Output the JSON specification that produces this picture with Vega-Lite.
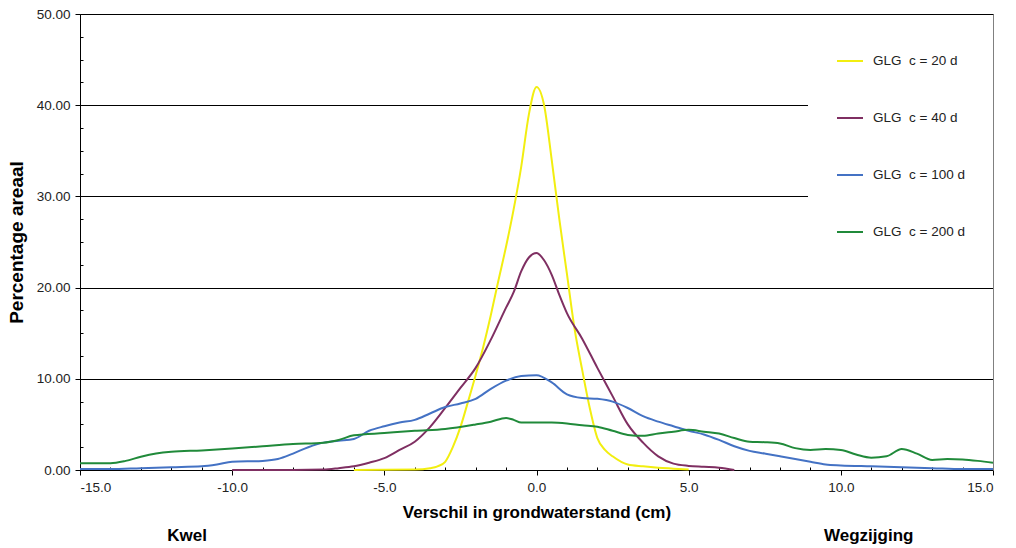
{
  "$schema": "https://vega.github.io/schema/vega-lite/v6.json",
  "width": 913,
  "height": 456,
  "autosize": {"type": "none"},
  "padding": {"left": 80, "top": 14, "right": 23, "bottom": 78},
  "background": "white",
  "config": {"view": {"stroke": null}, "font": "Liberation Sans"},
  "datasets": {
    "curves": [
      {"s": "GLG\u00a0 c = 20 d", "x": -6, "y": 0},
      {"s": "GLG\u00a0 c = 20 d", "x": -4, "y": 0.05},
      {"s": "GLG\u00a0 c = 20 d", "x": -3.5, "y": 0.2},
      {"s": "GLG\u00a0 c = 20 d", "x": -3.25, "y": 0.4},
      {"s": "GLG\u00a0 c = 20 d", "x": -3, "y": 0.9},
      {"s": "GLG\u00a0 c = 20 d", "x": -2.75, "y": 2.5},
      {"s": "GLG\u00a0 c = 20 d", "x": -2.5, "y": 4.7},
      {"s": "GLG\u00a0 c = 20 d", "x": -2.25, "y": 7.5},
      {"s": "GLG\u00a0 c = 20 d", "x": -2, "y": 10.4},
      {"s": "GLG\u00a0 c = 20 d", "x": -1.75, "y": 13.5},
      {"s": "GLG\u00a0 c = 20 d", "x": -1.5, "y": 17},
      {"s": "GLG\u00a0 c = 20 d", "x": -1.25, "y": 20.8},
      {"s": "GLG\u00a0 c = 20 d", "x": -1, "y": 24.5},
      {"s": "GLG\u00a0 c = 20 d", "x": -0.75, "y": 28.6},
      {"s": "GLG\u00a0 c = 20 d", "x": -0.5, "y": 33.3},
      {"s": "GLG\u00a0 c = 20 d", "x": -0.25, "y": 39},
      {"s": "GLG\u00a0 c = 20 d", "x": 0, "y": 42},
      {"s": "GLG\u00a0 c = 20 d", "x": 0.25, "y": 40},
      {"s": "GLG\u00a0 c = 20 d", "x": 0.5, "y": 34},
      {"s": "GLG\u00a0 c = 20 d", "x": 0.75, "y": 27.5},
      {"s": "GLG\u00a0 c = 20 d", "x": 1, "y": 21.5},
      {"s": "GLG\u00a0 c = 20 d", "x": 1.25, "y": 15.5},
      {"s": "GLG\u00a0 c = 20 d", "x": 1.5, "y": 11},
      {"s": "GLG\u00a0 c = 20 d", "x": 1.75, "y": 6.8},
      {"s": "GLG\u00a0 c = 20 d", "x": 2, "y": 3.5},
      {"s": "GLG\u00a0 c = 20 d", "x": 2.25, "y": 2.2},
      {"s": "GLG\u00a0 c = 20 d", "x": 2.5, "y": 1.5},
      {"s": "GLG\u00a0 c = 20 d", "x": 3, "y": 0.6},
      {"s": "GLG\u00a0 c = 20 d", "x": 3.5, "y": 0.4},
      {"s": "GLG\u00a0 c = 20 d", "x": 4, "y": 0.25},
      {"s": "GLG\u00a0 c = 20 d", "x": 4.5, "y": 0.15},
      {"s": "GLG\u00a0 c = 20 d", "x": 5, "y": 0.05},

      {"s": "GLG\u00a0 c = 40 d", "x": -10, "y": 0},
      {"s": "GLG\u00a0 c = 40 d", "x": -8, "y": 0},
      {"s": "GLG\u00a0 c = 40 d", "x": -7, "y": 0.05},
      {"s": "GLG\u00a0 c = 40 d", "x": -6.5, "y": 0.2},
      {"s": "GLG\u00a0 c = 40 d", "x": -6, "y": 0.4},
      {"s": "GLG\u00a0 c = 40 d", "x": -5.5, "y": 0.8},
      {"s": "GLG\u00a0 c = 40 d", "x": -5, "y": 1.3},
      {"s": "GLG\u00a0 c = 40 d", "x": -4.5, "y": 2.2},
      {"s": "GLG\u00a0 c = 40 d", "x": -4, "y": 3.1},
      {"s": "GLG\u00a0 c = 40 d", "x": -3.5, "y": 4.7},
      {"s": "GLG\u00a0 c = 40 d", "x": -3, "y": 6.8},
      {"s": "GLG\u00a0 c = 40 d", "x": -2.5, "y": 9.0},
      {"s": "GLG\u00a0 c = 40 d", "x": -2, "y": 11.2},
      {"s": "GLG\u00a0 c = 40 d", "x": -1.5, "y": 14.3},
      {"s": "GLG\u00a0 c = 40 d", "x": -1, "y": 17.8},
      {"s": "GLG\u00a0 c = 40 d", "x": -0.75, "y": 19.5},
      {"s": "GLG\u00a0 c = 40 d", "x": -0.5, "y": 21.8},
      {"s": "GLG\u00a0 c = 40 d", "x": -0.25, "y": 23.3},
      {"s": "GLG\u00a0 c = 40 d", "x": 0, "y": 23.8},
      {"s": "GLG\u00a0 c = 40 d", "x": 0.25, "y": 23.0},
      {"s": "GLG\u00a0 c = 40 d", "x": 0.5, "y": 21.4},
      {"s": "GLG\u00a0 c = 40 d", "x": 0.75, "y": 19.2},
      {"s": "GLG\u00a0 c = 40 d", "x": 1, "y": 17.2},
      {"s": "GLG\u00a0 c = 40 d", "x": 1.5, "y": 14.4},
      {"s": "GLG\u00a0 c = 40 d", "x": 2, "y": 11.2},
      {"s": "GLG\u00a0 c = 40 d", "x": 2.5, "y": 8.1},
      {"s": "GLG\u00a0 c = 40 d", "x": 3, "y": 5.0},
      {"s": "GLG\u00a0 c = 40 d", "x": 3.5, "y": 3.0},
      {"s": "GLG\u00a0 c = 40 d", "x": 4, "y": 1.5},
      {"s": "GLG\u00a0 c = 40 d", "x": 4.5, "y": 0.7},
      {"s": "GLG\u00a0 c = 40 d", "x": 5, "y": 0.45},
      {"s": "GLG\u00a0 c = 40 d", "x": 5.5, "y": 0.35},
      {"s": "GLG\u00a0 c = 40 d", "x": 6, "y": 0.25},
      {"s": "GLG\u00a0 c = 40 d", "x": 6.5, "y": 0},

      {"s": "GLG\u00a0 c = 100 d", "x": -15, "y": 0.1},
      {"s": "GLG\u00a0 c = 100 d", "x": -14, "y": 0.1},
      {"s": "GLG\u00a0 c = 100 d", "x": -13, "y": 0.2},
      {"s": "GLG\u00a0 c = 100 d", "x": -12, "y": 0.3},
      {"s": "GLG\u00a0 c = 100 d", "x": -11, "y": 0.4},
      {"s": "GLG\u00a0 c = 100 d", "x": -10.5, "y": 0.6},
      {"s": "GLG\u00a0 c = 100 d", "x": -10, "y": 0.9},
      {"s": "GLG\u00a0 c = 100 d", "x": -9, "y": 1.0},
      {"s": "GLG\u00a0 c = 100 d", "x": -8.5, "y": 1.2},
      {"s": "GLG\u00a0 c = 100 d", "x": -8, "y": 1.8},
      {"s": "GLG\u00a0 c = 100 d", "x": -7.5, "y": 2.5},
      {"s": "GLG\u00a0 c = 100 d", "x": -7, "y": 3.0},
      {"s": "GLG\u00a0 c = 100 d", "x": -6.5, "y": 3.2},
      {"s": "GLG\u00a0 c = 100 d", "x": -6, "y": 3.4},
      {"s": "GLG\u00a0 c = 100 d", "x": -5.5, "y": 4.3},
      {"s": "GLG\u00a0 c = 100 d", "x": -5, "y": 4.8},
      {"s": "GLG\u00a0 c = 100 d", "x": -4.5, "y": 5.2},
      {"s": "GLG\u00a0 c = 100 d", "x": -4, "y": 5.5},
      {"s": "GLG\u00a0 c = 100 d", "x": -3.5, "y": 6.2},
      {"s": "GLG\u00a0 c = 100 d", "x": -3, "y": 6.9},
      {"s": "GLG\u00a0 c = 100 d", "x": -2.5, "y": 7.3},
      {"s": "GLG\u00a0 c = 100 d", "x": -2, "y": 7.8},
      {"s": "GLG\u00a0 c = 100 d", "x": -1.5, "y": 8.9},
      {"s": "GLG\u00a0 c = 100 d", "x": -1, "y": 9.8},
      {"s": "GLG\u00a0 c = 100 d", "x": -0.5, "y": 10.3},
      {"s": "GLG\u00a0 c = 100 d", "x": 0, "y": 10.4},
      {"s": "GLG\u00a0 c = 100 d", "x": 0.5, "y": 9.6},
      {"s": "GLG\u00a0 c = 100 d", "x": 1, "y": 8.3},
      {"s": "GLG\u00a0 c = 100 d", "x": 1.5, "y": 7.9},
      {"s": "GLG\u00a0 c = 100 d", "x": 2, "y": 7.8},
      {"s": "GLG\u00a0 c = 100 d", "x": 2.5, "y": 7.5},
      {"s": "GLG\u00a0 c = 100 d", "x": 3, "y": 6.8},
      {"s": "GLG\u00a0 c = 100 d", "x": 3.5, "y": 5.9},
      {"s": "GLG\u00a0 c = 100 d", "x": 4, "y": 5.3},
      {"s": "GLG\u00a0 c = 100 d", "x": 4.5, "y": 4.8},
      {"s": "GLG\u00a0 c = 100 d", "x": 5, "y": 4.3},
      {"s": "GLG\u00a0 c = 100 d", "x": 5.5, "y": 3.9},
      {"s": "GLG\u00a0 c = 100 d", "x": 6, "y": 3.3},
      {"s": "GLG\u00a0 c = 100 d", "x": 6.5, "y": 2.6},
      {"s": "GLG\u00a0 c = 100 d", "x": 7, "y": 2.1},
      {"s": "GLG\u00a0 c = 100 d", "x": 7.5, "y": 1.8},
      {"s": "GLG\u00a0 c = 100 d", "x": 8, "y": 1.5},
      {"s": "GLG\u00a0 c = 100 d", "x": 8.5, "y": 1.2},
      {"s": "GLG\u00a0 c = 100 d", "x": 9, "y": 0.9},
      {"s": "GLG\u00a0 c = 100 d", "x": 9.5, "y": 0.6},
      {"s": "GLG\u00a0 c = 100 d", "x": 10, "y": 0.5},
      {"s": "GLG\u00a0 c = 100 d", "x": 11, "y": 0.4},
      {"s": "GLG\u00a0 c = 100 d", "x": 12, "y": 0.3},
      {"s": "GLG\u00a0 c = 100 d", "x": 13, "y": 0.2},
      {"s": "GLG\u00a0 c = 100 d", "x": 14, "y": 0.1},
      {"s": "GLG\u00a0 c = 100 d", "x": 15, "y": 0.1},

      {"s": "GLG\u00a0 c = 200 d", "x": -15, "y": 0.75},
      {"s": "GLG\u00a0 c = 200 d", "x": -14, "y": 0.75},
      {"s": "GLG\u00a0 c = 200 d", "x": -13.5, "y": 1.0},
      {"s": "GLG\u00a0 c = 200 d", "x": -13, "y": 1.45},
      {"s": "GLG\u00a0 c = 200 d", "x": -12.5, "y": 1.8},
      {"s": "GLG\u00a0 c = 200 d", "x": -12, "y": 2.0},
      {"s": "GLG\u00a0 c = 200 d", "x": -11, "y": 2.15},
      {"s": "GLG\u00a0 c = 200 d", "x": -10, "y": 2.35},
      {"s": "GLG\u00a0 c = 200 d", "x": -9, "y": 2.6},
      {"s": "GLG\u00a0 c = 200 d", "x": -8, "y": 2.85},
      {"s": "GLG\u00a0 c = 200 d", "x": -7, "y": 3.0},
      {"s": "GLG\u00a0 c = 200 d", "x": -6.5, "y": 3.3},
      {"s": "GLG\u00a0 c = 200 d", "x": -6, "y": 3.8},
      {"s": "GLG\u00a0 c = 200 d", "x": -5, "y": 4.05},
      {"s": "GLG\u00a0 c = 200 d", "x": -4, "y": 4.3},
      {"s": "GLG\u00a0 c = 200 d", "x": -3, "y": 4.5},
      {"s": "GLG\u00a0 c = 200 d", "x": -2, "y": 5.0},
      {"s": "GLG\u00a0 c = 200 d", "x": -1.5, "y": 5.3},
      {"s": "GLG\u00a0 c = 200 d", "x": -1, "y": 5.7},
      {"s": "GLG\u00a0 c = 200 d", "x": -0.75, "y": 5.5},
      {"s": "GLG\u00a0 c = 200 d", "x": -0.5, "y": 5.2},
      {"s": "GLG\u00a0 c = 200 d", "x": 0, "y": 5.2},
      {"s": "GLG\u00a0 c = 200 d", "x": 0.5, "y": 5.2},
      {"s": "GLG\u00a0 c = 200 d", "x": 1, "y": 5.1},
      {"s": "GLG\u00a0 c = 200 d", "x": 1.5, "y": 4.9},
      {"s": "GLG\u00a0 c = 200 d", "x": 2, "y": 4.75},
      {"s": "GLG\u00a0 c = 200 d", "x": 2.5, "y": 4.3},
      {"s": "GLG\u00a0 c = 200 d", "x": 3, "y": 3.85},
      {"s": "GLG\u00a0 c = 200 d", "x": 3.5, "y": 3.75},
      {"s": "GLG\u00a0 c = 200 d", "x": 4, "y": 4.0},
      {"s": "GLG\u00a0 c = 200 d", "x": 4.5, "y": 4.2},
      {"s": "GLG\u00a0 c = 200 d", "x": 5, "y": 4.4},
      {"s": "GLG\u00a0 c = 200 d", "x": 5.5, "y": 4.2},
      {"s": "GLG\u00a0 c = 200 d", "x": 6, "y": 4.0},
      {"s": "GLG\u00a0 c = 200 d", "x": 6.5, "y": 3.5},
      {"s": "GLG\u00a0 c = 200 d", "x": 7, "y": 3.1},
      {"s": "GLG\u00a0 c = 200 d", "x": 7.5, "y": 3.05},
      {"s": "GLG\u00a0 c = 200 d", "x": 8, "y": 2.9},
      {"s": "GLG\u00a0 c = 200 d", "x": 8.5, "y": 2.4},
      {"s": "GLG\u00a0 c = 200 d", "x": 9, "y": 2.2},
      {"s": "GLG\u00a0 c = 200 d", "x": 9.5, "y": 2.3},
      {"s": "GLG\u00a0 c = 200 d", "x": 10, "y": 2.2},
      {"s": "GLG\u00a0 c = 200 d", "x": 10.5, "y": 1.7},
      {"s": "GLG\u00a0 c = 200 d", "x": 11, "y": 1.35},
      {"s": "GLG\u00a0 c = 200 d", "x": 11.5, "y": 1.5},
      {"s": "GLG\u00a0 c = 200 d", "x": 12, "y": 2.3},
      {"s": "GLG\u00a0 c = 200 d", "x": 12.5, "y": 1.8},
      {"s": "GLG\u00a0 c = 200 d", "x": 13, "y": 1.1},
      {"s": "GLG\u00a0 c = 200 d", "x": 13.5, "y": 1.2},
      {"s": "GLG\u00a0 c = 200 d", "x": 14, "y": 1.15},
      {"s": "GLG\u00a0 c = 200 d", "x": 14.5, "y": 1.0},
      {"s": "GLG\u00a0 c = 200 d", "x": 15, "y": 0.8}
    ]
  },
  "data": {"name": "curves"},
  "layer": [
    {
      "mark": {"type": "line", "interpolate": "monotone", "strokeWidth": 2},
      "encoding": {
        "x": {
          "field": "x", "type": "quantitative",
          "scale": {"domain": [-15, 15], "nice": false, "zero": false},
          "axis": {
            "orient": "bottom", "values": [-15, -10, -5, 0, 5, 10, 15],
            "labelExpr": "(datum.value < 0 ? '-' : '') + format(abs(datum.value), '.1f')",
            "labelFontSize": 13.5, "labelColor": "#222", "labelPadding": 5,
            "tickSize": 5, "tickColor": "black", "domainColor": "black", "grid": false,
            "title": "Verschil in grondwaterstand (cm)", "titleFontSize": 17,
            "titleFontWeight": "bold", "titleColor": "black", "titlePadding": 11
          }
        },
        "y": {
          "field": "y", "type": "quantitative",
          "scale": {"domain": [0, 50], "nice": false},
          "axis": {
            "orient": "left", "values": [0, 10, 20, 30, 40, 50], "format": ".2f",
            "labelFontSize": 13.5, "labelColor": "#222", "labelPadding": 5,
            "tickSize": 5, "tickColor": "black", "domainColor": "black",
            "grid": true, "gridColor": "black", "gridOpacity": 1,
            "title": "Percentage areaal", "titleFontSize": 19, "titleFontWeight": "bold",
            "titleColor": "black", "titlePadding": 10
          }
        },
        "color": {
          "field": "s", "type": "nominal",
          "scale": {
            "domain": ["GLG\u00a0 c = 20 d", "GLG\u00a0 c = 40 d", "GLG\u00a0 c = 100 d", "GLG\u00a0 c = 200 d"],
            "range": ["#F2EE10", "#7F2F62", "#4472C4", "#208A3A"]
          },
          "legend": {
            "orient": "none", "legendX": 728, "legendY": 5, "title": null,
            "fillColor": "white", "padding": 28, "symbolType": "stroke",
            "symbolSize": 676, "symbolStrokeWidth": 2, "labelFontSize": 13.5,
            "labelColor": "#222", "labelOffset": 9, "rowPadding": 36
          }
        }
      }
    },
    {
      "mark": {"type": "point", "opacity": 0},
      "encoding": {
        "x": {
          "field": "x", "type": "quantitative",
          "scale": {"domain": [-15, 15], "nice": false, "zero": false},
          "axis": {
            "orient": "bottom",
            "values": [-14, -13, -12, -11, -9, -8, -7, -6, -4, -3, -2, -1, 1, 2, 3, 4, 6, 7, 8, 9, 11, 12, 13, 14],
            "labels": false, "domain": false, "grid": false, "tickSize": -3,
            "tickColor": "black", "title": null
          }
        },
        "y": {
          "field": "y", "type": "quantitative",
          "scale": {"domain": [0, 50], "nice": false},
          "axis": {
            "orient": "left",
            "values": [2.5, 5, 7.5, 12.5, 15, 17.5, 22.5, 25, 27.5, 32.5, 35, 37.5, 42.5, 45, 47.5],
            "labels": false, "domain": false, "grid": false, "tickSize": -3,
            "tickColor": "black", "title": null
          }
        }
      }
    },
    {
      "mark": {"type": "point", "opacity": 0},
      "encoding": {
        "x": {
          "field": "x", "type": "quantitative",
          "scale": {"domain": [-15, 15], "nice": false, "zero": false},
          "axis": {
            "orient": "bottom", "values": [-11.5, 10.9],
            "labelExpr": "datum.value < 0 ? 'Kwel' : 'Wegzijging'",
            "labelFontWeight": "bold", "labelFontSize": 17, "labelColor": "black",
            "ticks": false, "tickSize": 0, "labelPadding": 57, "domain": false,
            "grid": false, "title": null
          }
        },
        "y": {
          "field": "y", "type": "quantitative",
          "scale": {"domain": [0, 50], "nice": false},
          "axis": {
            "orient": "right", "labels": false, "ticks": false, "grid": false,
            "domain": true, "domainColor": "#808080", "title": null, "zindex": 1
          }
        }
      }
    },
    {
      "mark": {"type": "point", "opacity": 0},
      "encoding": {
        "x": {
          "field": "x", "type": "quantitative",
          "scale": {"domain": [-15, 15], "nice": false, "zero": false},
          "axis": {
            "orient": "top", "labels": false, "ticks": false, "grid": false,
            "domain": true, "domainColor": "black", "title": null, "zindex": 1
          }
        },
        "y": {"field": "y", "type": "quantitative", "axis": null}
      }
    }
  ],
  "resolve": {"axis": {"x": "independent", "y": "independent"}}
}
